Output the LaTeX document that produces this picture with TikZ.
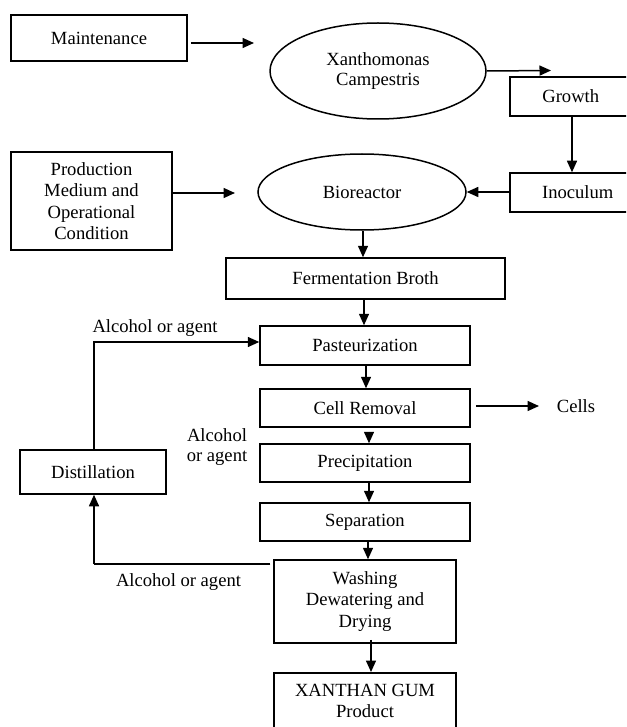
\documentclass[tikz,border=0pt]{standalone}
\usepackage{fontspec}
\setmainfont{Liberation Serif}
\usetikzlibrary{arrows.meta,shapes.geometric}
\begin{document}
\begin{tikzpicture}[x=1pt,y=-1pt,
  every node/.style={font=\fontsize{18.6}{21.3}\selectfont, inner sep=0pt, align=center},
  procbox/.style={draw, line width=1.5pt, rectangle},
  oval/.style={draw, line width=1.5pt, ellipse},
  arr/.style={line width=1.5pt, -{Triangle[length=11.5pt,width=10pt]}},
  ln/.style={line width=1.5pt}]
\clip (0,0) rectangle (626,727);
\fill[white] (0,0) rectangle (626,727);
% nodes
\node[procbox, minimum width=176pt, minimum height=46pt] (maint) at (99,38) {Maintenance};
\node[oval, minimum width=216pt, minimum height=96pt, font=\fontsize{18.6}{20.5}\selectfont] (xanth) at (378,71) {Xanthomonas\\Campestris};
\node[procbox, minimum width=122pt, minimum height=39pt, anchor=west] (growth) at (509,96.5) {Growth};
\node[procbox, minimum width=136pt, minimum height=39pt, anchor=west] (inoc) at (509,192.5) {Inoculum};
\node[procbox, minimum width=161pt, minimum height=98pt] (prod) at (91.5,201) {Production\\Medium and\\Operational\\Condition};
\node[oval, minimum width=208pt, minimum height=76pt] (bio) at (362,192) {Bioreactor};
\node[procbox, minimum width=279pt, minimum height=41pt] (ferm) at (365.5,278.5) {Fermentation Broth};
\node[procbox, minimum width=210pt, minimum height=39pt] (past) at (365,345.5) {Pasteurization};
\node[procbox, minimum width=210pt, minimum height=38pt] (cellrem) at (365,408) {Cell Removal};
\node[procbox, minimum width=210pt, minimum height=38pt] (precip) at (365,463) {Precipitation};
\node[procbox, minimum width=210pt, minimum height=38pt] (sep) at (365,522) {Separation};
\node[procbox, minimum width=182pt, minimum height=83pt] (wash) at (365,601.5) {Washing\\Dewatering and\\Drying};
\node[procbox, minimum width=182pt, minimum height=57pt, anchor=north] (xan) at (365,672) {XANTHAN GUM\\Product};
\node[procbox, minimum width=146pt, minimum height=44pt] (distill) at (93,472) {Distillation};
\node (cells) at (576,406) {Cells};
\node (lab1) at (155,328) {Alcohol or agent};
\node[font=\fontsize{18.6}{19.5}\selectfont] (lab2) at (217,447) {Alcohol\\or agent};
\node (lab3) at (178.5,582) {Alcohol or agent};
% free ends
\coordinate (m1) at (254,43);
\coordinate (x1) at (551,70.5);
\coordinate (p1) at (235,193);
\coordinate (c1) at (539,406);
\coordinate (r1) at (94,342);
\coordinate (r2) at (94,564);
% connectors
\draw[arr] ([xshift=3pt]maint.east |- m1) -- (m1);
\draw[arr] (xanth.east) -- (x1);
\draw[arr] (growth.south -| 572,0) -- (inoc.north -| 572,0);
\draw[arr] (inoc.west |- bio.east) -- (bio.east);
\draw[arr] (prod.east |- p1) -- (p1);
\draw[arr] (bio.south -| 363,0) -- (ferm.north -| 363,0);
\draw[arr] (ferm.south -| 364,0) -- (past.north -| 364,0);
\draw[arr] (past.south -| 366,0) -- (cellrem.north -| 366,0);
\draw[arr] ([yshift=-4pt]cellrem.south -| 369,0) -- (precip.north -| 369,0);
\draw[arr] (precip.south -| 369,0) -- (sep.north -| 369,0);
\draw[arr] (sep.south -| 368,0) -- (wash.north -| 368,0);
\draw[arr] ([yshift=4pt]wash.south -| 371,0) -- (xan.north -| 371,0);
\draw[arr] ([xshift=5pt]cellrem.east |- c1) -- (c1);
\draw[arr] (distill.north -| r1) -- (r1) -- (past.west |- r1);
\draw[ln] ([xshift=-3pt]wash.west |- r2) -- (r2);
\draw[arr] (r2) -- (distill.south -| r2);
\end{tikzpicture}
\end{document}
